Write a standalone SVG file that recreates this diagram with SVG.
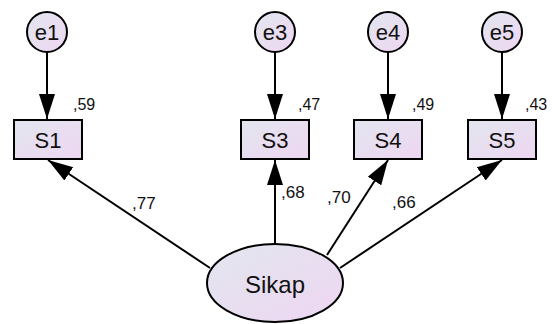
<svg xmlns="http://www.w3.org/2000/svg" width="552" height="324" viewBox="0 0 552 324">
<style>
.node{stroke:#000;stroke-width:2;fill:url(#g)}
.lbl{font-family:"Liberation Sans",Arial,sans-serif;fill:#111;text-anchor:middle}
.num{font-family:"Liberation Sans",Arial,sans-serif;fill:#111;font-size:16px}
.pnum{font-family:"Liberation Sans",Arial,sans-serif;fill:#111;font-size:17px}
.conn{stroke:#000;stroke-width:2;fill:none;marker-end:url(#ah)}
</style>
<defs>
<linearGradient id="g" x1="0" y1="0" x2="1" y2="1">
<stop offset="0" stop-color="#e2e6ee"/>
<stop offset="1" stop-color="#eed6f2"/>
</linearGradient>
<marker id="ah" markerUnits="userSpaceOnUse" markerWidth="26" markerHeight="18" refX="25" refY="8" orient="auto" viewBox="0 0 26 16">
<path d="M0,0 L25,8 L0,16 Z" fill="#000"/>
</marker>
</defs>
<rect width="552" height="324" fill="#fff"/>
<g id="connectors">
<line class="conn" x1="47" y1="52" x2="47" y2="119"/>
<line class="conn" x1="275" y1="52" x2="275" y2="119"/>
<line class="conn" x1="388" y1="52" x2="388" y2="119"/>
<line class="conn" x1="502" y1="52" x2="502" y2="119"/>
<line class="conn" x1="210" y1="268" x2="48" y2="160"/>
<line class="conn" x1="275" y1="243" x2="275" y2="160"/>
<line class="conn" x1="327" y1="255" x2="388" y2="160"/>
<line class="conn" x1="340" y1="268" x2="502" y2="160"/>
<text class="pnum" x="132" y="209">,77</text>
<text class="pnum" x="281" y="198">,68</text>
<text class="pnum" x="327" y="203">,70</text>
<text class="pnum" x="392" y="208">,66</text>
</g>
<g id="e1"><circle class="node" cx="47" cy="32" r="20"/><text class="lbl" x="47" y="40" font-size="22">e1</text></g>
<g id="e3"><circle class="node" cx="275" cy="32" r="20"/><text class="lbl" x="275" y="40" font-size="22">e3</text></g>
<g id="e4"><circle class="node" cx="388" cy="32" r="20"/><text class="lbl" x="388" y="40" font-size="22">e4</text></g>
<g id="e5"><circle class="node" cx="502" cy="32" r="20"/><text class="lbl" x="502" y="40" font-size="22">e5</text></g>
<g id="S1"><rect class="node" x="14" y="120" width="68" height="39"/><text class="lbl" x="48" y="148" font-size="22">S1</text><text class="num" x="73" y="110">,59</text></g>
<g id="S3"><rect class="node" x="241" y="120" width="68" height="39"/><text class="lbl" x="275" y="148" font-size="22">S3</text><text class="num" x="298" y="110">,47</text></g>
<g id="S4"><rect class="node" x="354" y="120" width="68" height="39"/><text class="lbl" x="388" y="148" font-size="22">S4</text><text class="num" x="412" y="110">,49</text></g>
<g id="S5"><rect class="node" x="468" y="120" width="68" height="39"/><text class="lbl" x="502" y="148" font-size="22">S5</text><text class="num" x="525" y="110">,43</text></g>
<g id="Sikap"><ellipse class="node" cx="275" cy="283" rx="68" ry="39"/><text class="lbl" x="275" y="293" font-size="24">Sikap</text></g>
</svg>
